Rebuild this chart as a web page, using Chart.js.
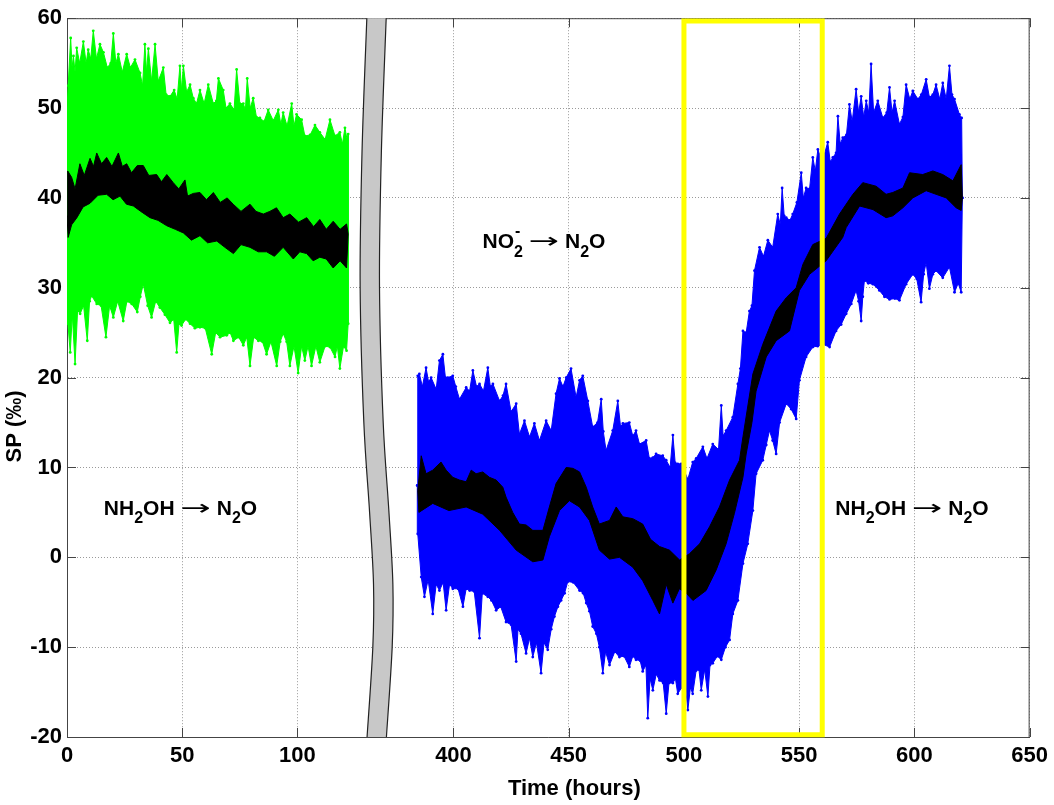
<!DOCTYPE html>
<html><head><meta charset="utf-8">
<script src="https://cdn.jsdelivr.net/npm/chart.js@4.4.0/dist/chart.umd.min.js"></script>
<style>html,body{margin:0;padding:0;background:#fff;}</style>
</head><body>
<canvas id="c" width="1054" height="805"></canvas>
<script>
// ---------- data (hours, SP ‰) ----------
const xTickHours = [0, 50, 100, 400, 450, 500, 550, 600, 650];
const xTickLabels = ['0', '50', '100', '400', '450', '500', '550', '600', '650'];
const breakAfterHours = 250;      // hours beyond this are shown shifted left (axis break)
const breakShiftHours = 232.3;    // hidden span of the broken axis

// NH2OH phase (green): upper / lower envelope of raw data
const greenUpper = [[0,50],[0.5,52.5],[1.6,57.8],[2.2,54.5],[2.8,55.8],[3.5,54],[4.2,56.7],[5.5,55],[7.1,57.4],[8.3,55],[9.2,56.5],[10.3,55.5],[11.4,58.6],[12.8,55.5],[14.3,57.1],[15.8,56.2],[17.5,54.5],[19,55],[20.1,58.3],[21.2,55],[22.3,56],[24,54],[25.9,56],[27.5,54.5],[29.5,55.4],[31.7,53.9],[32.8,52.5],[33.8,57.1],[34.5,54],[35.3,56.6],[36.7,53],[38.2,57.1],[39.6,53],[41.8,54.5],[43,51.5],[44.7,51.3],[46.5,52],[47.8,51],[49,54.7],[49.7,52],[50.5,54.7],[51.9,51.8],[53.4,52.6],[54.8,51.1],[56.2,50.5],[57.7,52],[59.5,50.5],[61.3,52.6],[63.5,50.5],[64.8,50.8],[65.7,53.3],[67.8,52],[69,50],[70.7,50.5],[72.5,49.8],[73.6,54.3],[75,50.5],[76.5,50.5],[77.4,49.8],[78.2,53.3],[79.5,50],[80.8,51.1],[82.2,49],[83.7,48.9],[85.5,48.5],[87.3,49.8],[89.5,48.6],[91.7,49.8],[92.8,48.2],[93.8,49.5],[95.5,48],[97.5,50.5],[98.5,48],[99.6,49.3],[101.8,48.7],[103.2,46.9],[105.5,47],[107.6,48.1],[109.7,47.3],[112,46.5],[114.1,48.7],[116.3,46.9],[118.4,47.3],[119.5,46],[120.6,47.8],[121.5,46.5],[122,47.1]];
const greenLower = [[0,30],[0.4,26],[1.4,22.8],[2.3,27],[3.5,21.5],[4.6,27.5],[5.7,27.1],[7.2,28],[8.8,24.1],[9.8,28.5],[10.7,29.1],[12.9,28.2],[14.8,28],[16.9,24.5],[18.5,28],[20.1,26.7],[22,28.5],[24.4,26.3],[26,28.5],[28.1,28.2],[30.5,27.3],[31.8,29],[33.1,30.4],[35,28],[36.7,26.7],[38.5,28.5],[40.3,27.8],[42.5,27],[44.7,26.1],[46.3,26.5],[47.6,22.8],[48.6,26],[49.7,25.8],[51.5,26.5],[53.4,26],[55.5,25.5],[57.7,25.6],[60,25.5],[62.8,22.6],[64.5,25],[66.4,24.5],[69.3,24.7],[70.8,25],[72.2,24.1],[74.5,24.5],[76.5,23.6],[78,24.5],[79.4,21.3],[81,24.5],[83,24.1],[84.8,24],[86.6,22.6],[88.5,24],[91,21.3],[92.5,24],[93.8,24.9],[95.3,24],[96.7,21.3],[98.5,23.5],[100.3,20.5],[101.8,23.5],[103.2,21.9],[104.6,23.5],[106.1,21.3],[108,23.5],[109.7,21.7],[112,23.5],[114.1,23.4],[116.3,22.3],[117.3,23.5],[118.4,21],[120,23.5],[121.3,23],[122,26]];
// NH2OH phase: running mean (black) upper / lower edge
const greenMeanUpper = [[0,38],[0.3,43],[2,42.3],[3.5,41],[5.6,43.8],[7.5,42.5],[10,44.4],[11.5,43.5],[12.9,45],[15,43.8],[17.2,44.5],[19.5,43.5],[22.3,45],[24,43.5],[25.9,43.8],[28,42.8],[30.5,43.6],[33.1,43.6],[35.5,42.5],[38.9,42.6],[41,41.8],[43.3,42.6],[46.1,41.7],[48.5,41],[51.2,42],[52.3,40.2],[54.8,40.5],[57.7,40.6],[60.5,39.8],[63.5,40.6],[66.5,39.5],[69.5,40],[72.1,39.3],[75.5,38.5],[79.4,39.3],[82,38.5],[85.2,38.2],[88,38.5],[90.9,38.9],[93.8,37.8],[96.7,38.2],[100.5,37.3],[104,37.8],[107,36.8],[109.7,37.6],[112.5,36.5],[115.5,37.4],[118.5,36.5],[121.3,37.1],[122,36]];
const greenMeanLower = [[0,38],[0.5,35.6],[2,37],[4.3,37.8],[7,39],[10,39.4],[13.5,40.3],[17.2,40.4],[20,39.8],[23,40.2],[25.8,39.3],[28.8,39.1],[32,38.5],[36,37.8],[39.5,37.5],[43.3,36.9],[47,36.5],[50.5,36.1],[54,35.3],[57.7,35.8],[61,35],[65,35.2],[68.5,34.5],[72.2,33.8],[75.5,34.8],[79.4,34.5],[83,34],[86.6,34],[90,33.5],[93.8,34.5],[98.2,33.2],[101,34],[104,33.8],[106.8,33],[109.7,33.4],[112.5,33.2],[115.5,32.2],[118.5,33],[121.3,32.2],[122,36]];

// NO2- phase and back (blue): upper / lower envelope of raw data
const blueUpper = [[384.3,8],[384.5,20.2],[385.2,20.4],[386.5,19],[388.1,21.1],[389.2,19.5],[390.3,20],[392.5,18.7],[393.9,21.9],[395.4,22.6],[396.5,20],[397.5,20],[399.7,20.2],[401,19],[402.6,17.6],[405.5,18.9],[407,18.5],[408.4,20.8],[410,19],[411.3,19.3],[413,18.5],[414.9,21.1],[416,19],[417.1,19.3],[420,17.4],[421.5,18],[422.8,19.3],[425,16.2],[427.2,17.1],[428.6,13.7],[430.8,15.2],[433,13.4],[435.1,14.9],[437.3,13],[440.2,15.2],[442.4,14.1],[444.5,18.2],[446,19.9],[447.5,19],[448.9,20],[451,21],[453.2,17.8],[454.7,19.7],[456.1,20.2],[458.3,17.4],[460.4,14.5],[462.5,15],[464.1,17.6],[465,14],[466.2,11.9],[469.1,14.1],[471.3,17.4],[472.5,14.5],[473.5,14.9],[476.3,15],[477.8,13.5],[479.2,14.1],[480.7,12.6],[483.6,13],[485,11],[486.5,11.1],[487.9,11.5],[490.8,11.3],[492.3,10.8],[494,10],[495.2,13.6],[496.2,10.5],[497.3,10.4],[498.8,10.4],[501.7,8.7],[503.8,10.6],[505.3,11],[508.2,12.3],[510,11],[512.5,12.6],[515,12],[516.2,16.9],[517,13.5],[518.3,14.1],[521.2,15.6],[523.4,19.3],[524.5,21],[525.6,25.2],[527,25],[528.4,27.4],[529.5,28],[530.6,31.9],[532.8,34.5],[534.5,33.5],[536.4,35.3],[538.5,34.5],[540.7,38.2],[541.8,37],[542.6,41.1],[543.5,38],[544.4,37.8],[546,37.5],[547.2,38.2],[549,39.5],[550.9,42.8],[551.8,40],[553,41.1],[554.5,41],[555.9,44.5],[557,43],[558.1,45.4],[560,44],[562.4,46.2],[563.5,44],[564.6,44.5],[566,45],[566.8,49.1],[567.8,46],[568.9,46.7],[570.5,47],[571.8,50.4],[573,48.5],[574.7,52.1],[575.8,49.5],[576.9,51.3],[578,49],[579.1,50.8],[580.2,49.5],[581.2,54.9],[582.3,49.5],[584.1,50.8],[586.3,48.9],[588,49.5],[589.2,52.3],[590.3,49.5],[591.4,50.8],[593.5,48.2],[595,49],[596.4,52.6],[598,51],[599.3,51.9],[601.5,51],[603,51.5],[605.1,53.2],[606.5,51.2],[608,51.5],[609.4,52.6],[611,51],[612.3,52.8],[613.8,51],[615.2,54.7],[616.3,51.5],[617.4,51],[619.5,49.3],[620.5,48.9],[620.8,40]];
const blueLower = [[384.3,8],[384.5,2.6],[386,-2.2],[387.4,-4.4],[389,-2.5],[391,-6.3],[392.5,-3],[393.9,-3.7],[395.5,-2.8],[396.8,-5.9],[398.3,-3],[399.7,-3.5],[402,-3.5],[404.1,-5.5],[405.5,-3.5],[407,-3.7],[409,-3.8],[411.3,-9],[412.5,-4],[414.9,-4.4],[416.5,-4.8],[418.5,-5.9],[420.5,-5.5],[422.8,-7.2],[425,-7.5],[427.2,-11.6],[428,-8],[429.3,-8.5],[431.5,-10.7],[433,-9],[434.4,-11.1],[436,-9.5],[438,-12.9],[439.3,-9.5],[440.9,-10.3],[442.4,-8],[443.8,-6.6],[445.3,-5.5],[446.7,-4.8],[448.2,-4],[449.6,-2.7],[452,-2.8],[454.7,-3.7],[456.3,-4],[457.6,-5.1],[459,-6],[460.4,-7.7],[462,-8.5],[463.3,-10],[464.8,-12.9],[466,-10.5],[467.7,-12],[470,-10.5],[472,-11.1],[474,-11],[476.3,-12.2],[477.8,-11],[479.2,-11.4],[481,-11.5],[482.1,-12.7],[483.5,-12],[484.3,-17.9],[485.3,-13.5],[486.5,-14.8],[488,-13],[489.4,-13.7],[491,-14],[492.3,-17.4],[493.5,-14],[495.2,-14],[496.3,-13.5],[497.3,-15.2],[499,-14.5],[500.5,-14],[501.7,-17],[502.8,-14.5],[503.8,-15.2],[505.3,-12.6],[506.5,-12.5],[507.5,-14.8],[509,-12.5],[510.4,-15.5],[511.3,-12],[512.5,-11.8],[514.5,-11],[516.2,-11.4],[518,-10],[519.8,-9.2],[521.2,-6.3],[523.4,-4.8],[525.6,-0.7],[527.7,1.5],[529.9,5.2],[531.3,9.3],[534.2,10.8],[535.7,12.5],[537.1,14.1],[538.5,13],[540,11.5],[541.5,15],[544.4,17.1],[546.5,16.5],[548.7,15.4],[550.1,19.7],[553,22.3],[555.9,23.4],[558,23.5],[560.3,23.7],[563.2,23.4],[566,25.2],[568.2,25.9],[570.4,27.1],[572.6,28.2],[574.7,29.7],[575.8,28.5],[576.9,26.3],[577.6,29],[578.3,30.8],[580,30.5],[582,30.4],[584.8,29.7],[587,29],[589.2,28.7],[591.5,28.8],[593.5,28.6],[596.4,30.4],[599.3,31.5],[601,31],[602.9,28.4],[604,31.5],[605.1,32.8],[606.5,29.9],[608,31.5],[609.4,31.9],[612.3,31.1],[615.2,32.3],[617.4,29.5],[619,30.5],[620.3,29.5],[620.8,40]];
// blue phase: running mean (black) upper / lower edge
const blueMeanUpper = [[384.5,7.4],[386,11.3],[388.1,9.3],[391,9.7],[394.6,10.6],[396.8,9.7],[399.7,8.9],[402.6,8.6],[405.5,8.4],[407.7,9.7],[409.8,9.3],[412.7,9.5],[415.6,8.9],[418.5,8.6],[421.4,7.8],[422.8,6.7],[425.7,5],[428.6,3.7],[431.5,3.6],[434.4,3],[438.8,3],[441.6,5.6],[444.5,8.2],[448.9,10],[451.8,9.9],[454.7,9.5],[457.6,7.8],[460.4,5.6],[463.3,3.7],[467.7,4.1],[470.6,5.6],[473.5,4.5],[477.8,4.3],[482.1,3.7],[485.5,2],[489.4,1.2],[493.7,0.8],[498.1,-0.3],[502.4,0.4],[506.8,1.5],[511.1,3.4],[515.4,5.6],[519.8,8.6],[524.1,10.8],[525.6,13.4],[529.9,20.4],[534.2,23.7],[540,27.4],[544.4,28.9],[548.7,30],[551.6,32.6],[555.9,34.8],[561.7,35.5],[567.5,38.2],[573.3,40.4],[577.6,41.7],[583.4,41.3],[587.7,40.4],[590.6,40.6],[595,41.1],[597.9,42.8],[603.6,42.6],[608,43],[612.3,42.6],[616.7,41.9],[620.3,43.7],[620.8,40]];
const blueMeanLower = [[384.5,7.4],[385,5],[391,6],[398,5.2],[405.5,5.6],[412.7,4.8],[420,3],[427.2,0.8],[434.4,-0.5],[438.8,-0.3],[441.6,2.3],[446,5.2],[450.3,6.3],[454.7,5.6],[459,4.1],[463.3,0.8],[467.7,-0.2],[472,0],[477.8,-1.1],[482.1,-2.6],[486.5,-4.8],[489.4,-6.3],[492.3,-3],[495.2,-5.1],[498,-3.5],[501,-4],[503.9,-4.8],[509.6,-3.7],[514,-1.4],[518.3,1.5],[521.9,4.9],[525.6,8.9],[527,11.5],[529.5,15],[531.3,18.5],[535.7,22.3],[540,24.1],[545.8,25.2],[550.1,29.7],[554.5,31.5],[561.7,33],[568.9,35.6],[570.4,36.7],[576.2,39.1],[582,38.7],[587.7,37.8],[590.6,38],[595,38.9],[599.3,40],[605.1,40.8],[609.4,40.4],[613.8,40],[618.1,38.9],[620.3,38.6],[620.8,40]];

// highlighted window (yellow rectangle)
const boxHours = [500, 500, 560, 560, 500, 500];
const boxValues = [20, 59.7, 59.7, -19.75, -19.75, 20];

// annotations: hours, baseline value, text (_x subscript, ^x superscript)
const noteHours = [16, 412.6, 565.7];
const noteValues = [4.7, 34.4, 4.7];
const noteTexts = ['NH_2OH \u2192 N_2O', 'NO^-_2 \u2192 N_2O', 'NH_2OH \u2192 N_2O'];

// axis titles
const xTitle = 'Time (hours)';
const yTitle = 'SP (\u2030)';

// axis-break band (axis units, SP values)
const breakValues = [60, 45, 30, 15, 5, -3, -10, -20];
const breakLeftEdge = [130.1, 128.0, 127.2, 128.8, 131.3, 133.0, 132.7, 130.2];
const breakWidth = 8.4;

// ---------- helpers ----------
const FONT = "'Liberation Sans', Arial, Helvetica, sans-serif";
const toAxis = h => (h > breakAfterHours ? h - breakShiftHours : h);
const shape = (upper, lower) =>
  upper.map(([h, v]) => ({x: toAxis(h), y: v}))
    .concat(lower.slice().reverse().map(([h, v]) => ({x: toAxis(h), y: v})));

function bandSet(data, color, order, dots) {
  return {data, showLine: true, fill: 'shape', backgroundColor: color, borderColor: color,
    borderWidth: 1, pointRadius: dots ? 1.4 : 0, pointBorderWidth: 0, pointBackgroundColor: color,
    tension: 0, borderJoinStyle: 'round', order};
}

// ---------- plugins ----------
const framePlugin = {
  id: 'frame',
  beforeDatasetsDraw(chart) {
    const {ctx, chartArea: a, scales: {x, y}} = chart;
    ctx.save();
    ctx.strokeStyle = '#444'; ctx.lineWidth = 1;
    ctx.beginPath();
    ctx.moveTo(a.left, a.top + 0.5); ctx.lineTo(a.right, a.top + 0.5);
    ctx.moveTo(a.right - 0.5, a.top); ctx.lineTo(a.right - 0.5, a.bottom);
    const L = 9;
    x.ticks.forEach(t => {
      const px = Math.round(x.getPixelForValue(t.value)) + 0.5;
      ctx.moveTo(px, a.bottom); ctx.lineTo(px, a.bottom - L);
      ctx.moveTo(px, a.top); ctx.lineTo(px, a.top + L);
    });
    y.ticks.forEach(t => {
      const py = Math.round(y.getPixelForValue(t.value)) + 0.5;
      ctx.moveTo(a.left, py); ctx.lineTo(a.left + L, py);
      ctx.moveTo(a.right, py); ctx.lineTo(a.right - L, py);
    });
    ctx.stroke();
    ctx.restore();
  }
};

function catmull(ctx, pts, moveFirst) {
  if (moveFirst) ctx.moveTo(pts[0][0], pts[0][1]); else ctx.lineTo(pts[0][0], pts[0][1]);
  for (let i = 0; i < pts.length - 1; i++) {
    const p0 = pts[Math.max(i - 1, 0)], p1 = pts[i], p2 = pts[i + 1], p3 = pts[Math.min(i + 2, pts.length - 1)];
    ctx.bezierCurveTo(p1[0] + (p2[0] - p0[0]) / 6, p1[1] + (p2[1] - p0[1]) / 6,
      p2[0] - (p3[0] - p1[0]) / 6, p2[1] - (p3[1] - p1[1]) / 6, p2[0], p2[1]);
  }
}

const breakPlugin = {
  id: 'axisBreak',
  afterDraw(chart) {
    const {ctx, scales: {x, y}} = chart;
    const left = breakValues.map((v, i) => [x.getPixelForValue(breakLeftEdge[i]), y.getPixelForValue(v)]);
    const right = breakValues.map((v, i) => [x.getPixelForValue(breakLeftEdge[i] + breakWidth), y.getPixelForValue(v)]);
    ctx.save();
    ctx.beginPath();
    catmull(ctx, left, true);
    catmull(ctx, right.slice().reverse(), false);
    ctx.closePath();
    ctx.fillStyle = '#c8c8c8'; ctx.fill();
    ctx.strokeStyle = '#222'; ctx.lineWidth = 1.2;
    ctx.beginPath(); catmull(ctx, left, true); ctx.stroke();
    ctx.beginPath(); catmull(ctx, right, true); ctx.stroke();
    ctx.restore();
  }
};

function drawRich(ctx, str, x0, y0, size) {
  const big = `bold ${size}px ${FONT}`, small = `bold ${Math.round(size * 0.78)}px ${FONT}`;
  ctx.save(); ctx.translate(x0, y0);
  ctx.fillStyle = '#000'; ctx.textBaseline = 'alphabetic'; ctx.textAlign = 'left';
  let cx = 0, i = 0;
  while (i < str.length) {
    const c = str[i];
    if (c === '^' || c === '_') {
      let sup = null, sub = null;
      while (i < str.length && (str[i] === '^' || str[i] === '_')) {
        if (str[i] === '^') sup = str[i + 1]; else sub = str[i + 1];
        i += 2;
      }
      ctx.font = small; let w = 0;
      if (sup) { ctx.fillText(sup, cx + 1, -size * 0.58); w = Math.max(w, ctx.measureText(sup).width); }
      if (sub) { ctx.fillText(sub, cx, size * 0.4); w = Math.max(w, ctx.measureText(sub).width); }
      cx += w; continue;
    }
    if (c === '\u2192') {
      ctx.font = `${size}px 'DejaVu Sans', sans-serif`;
      const w = ctx.measureText(c).width, target = size * 1.45;
      ctx.save(); ctx.translate(cx, 0); ctx.scale(target / w, 1); ctx.fillText(c, 0, 0); ctx.restore();
      cx += target; i++; continue;
    }
    let run = '';
    while (i < str.length && !'^_\u2192'.includes(str[i])) run += str[i++];
    ctx.font = big; ctx.fillText(run, cx, 0); cx += ctx.measureText(run).width;
  }
  ctx.restore();
}

const notePlugin = {
  id: 'notes',
  afterDatasetsDraw(chart) {
    const {ctx, chartArea: a, scales: {x, y}} = chart;
    noteTexts.forEach((t, i) => drawRich(ctx, t, x.getPixelForValue(toAxis(noteHours[i])), y.getPixelForValue(noteValues[i]), 21));
    // axis titles
    ctx.save();
    ctx.fillStyle = '#000'; ctx.font = `bold 22px ${FONT}`; ctx.textAlign = 'center'; ctx.textBaseline = 'middle';
    ctx.fillText(xTitle, a.left + (a.right - a.left) * 0.527, a.bottom + 52);
    ctx.translate(15, a.top + (a.bottom - a.top) * 0.568);
    ctx.rotate(-Math.PI / 2);
    ctx.fillText(yTitle, 0, 0);
    ctx.restore();
  }
};

// ---------- chart ----------
new Chart(document.getElementById('c'), {
  type: 'scatter',
  data: {
    datasets: [
      {data: boxHours.map((h, i) => ({x: toAxis(h), y: boxValues[i]})), showLine: true, fill: false,
        borderColor: '#ffff00', borderWidth: 5, pointRadius: 0, borderJoinStyle: 'miter', clip: false, order: 0},
      bandSet(shape(greenMeanUpper, greenMeanLower), '#000000', 1, false),
      bandSet(shape(blueMeanUpper, blueMeanLower), '#000000', 1, false),
      bandSet(shape(greenUpper, greenLower), '#00ff00', 2, true),
      bandSet(shape(blueUpper, blueLower), '#0000ff', 2, true)
    ]
  },
  options: {
    responsive: false, animation: false, devicePixelRatio: 1,
    layout: {padding: {top: 17, right: 24, left: 0, bottom: 0}},
    plugins: {legend: {display: false}, tooltip: {enabled: false}},
    scales: {
      x: {
        type: 'linear', min: 0, max: toAxis(650),
        afterBuildTicks: s => { s.ticks = xTickHours.map(h => ({value: toAxis(h)})); },
        afterFit: s => { s.height = 68; },
        ticks: {
          autoSkip: false, maxRotation: 0, padding: 6, color: '#000',
          font: {family: FONT, weight: 'bold', size: 22},
          callback: (v) => xTickLabels[xTickHours.findIndex(h => Math.abs(toAxis(h) - v) < 1e-6)]
        },
        grid: {color: '#9a9a9a', lineWidth: 1, drawTicks: false},
        border: {display: true, color: '#444', width: 1, dash: [1, 2]},
        title: {display: false}
      },
      y: {
        min: -20, max: 60,
        afterFit: s => { s.width = 67; },
        ticks: {stepSize: 10, padding: 5, color: '#000', font: {family: FONT, weight: 'bold', size: 22}},
        grid: {color: '#9a9a9a', lineWidth: 1, drawTicks: false},
        border: {display: true, color: '#444', width: 1, dash: [1, 2]},
        title: {display: false}
      }
    }
  },
  plugins: [framePlugin, notePlugin, breakPlugin]
});
</script>
</body></html>
